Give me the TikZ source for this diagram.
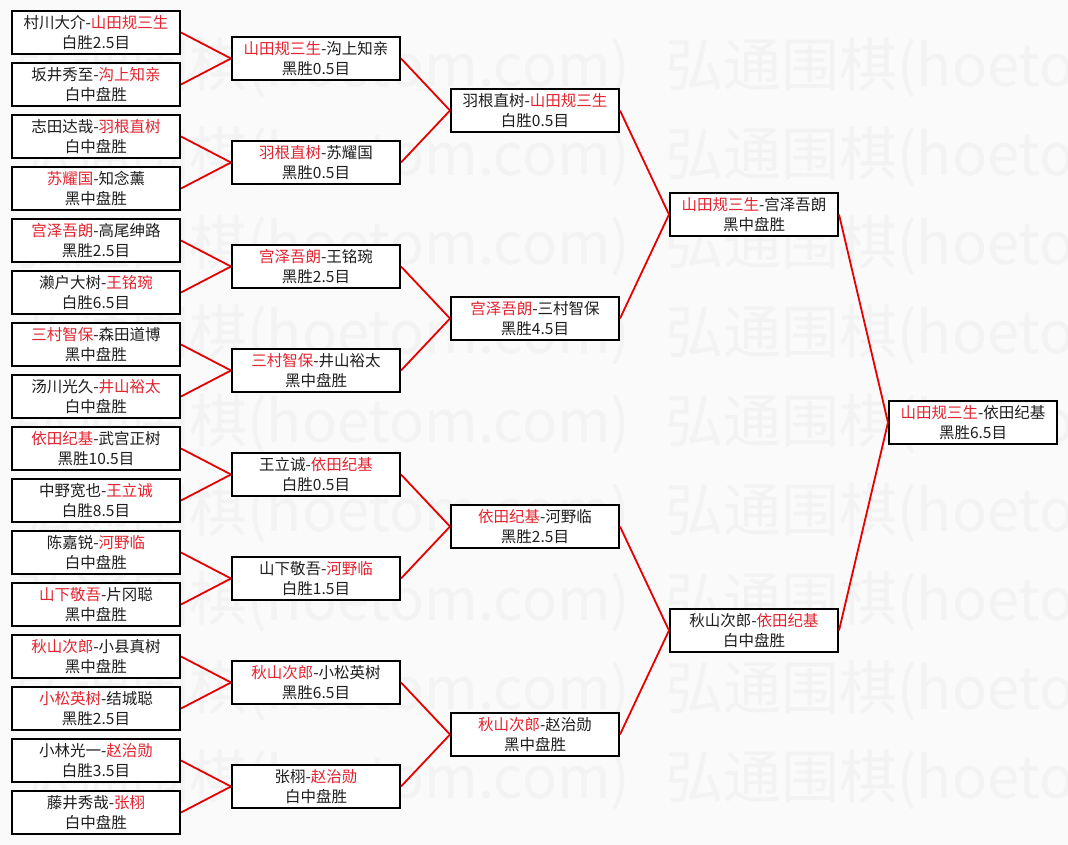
\documentclass[tikz,border=0pt]{standalone}
\usepackage{fontspec}
\setmainfont{Noto Sans CJK SC}
\definecolor{tred}{RGB}{226,36,48}
\definecolor{lred}{RGB}{230,0,0}
\definecolor{bg}{RGB}{250,250,250}
\definecolor{tk}{RGB}{30,30,30}
\definecolor{wmc}{RGB}{243,243,243}
\tikzset{
  mbox/.style={draw=black, line width=2pt, fill=white, minimum width=168pt, minimum height=43pt, inner sep=0pt, align=center, font=\fontsize{15.5}{20}\selectfont, text=tk},
  link/.style={draw=lred, line width=1.8pt},
  wm/.style={anchor=west, font=\fontsize{58}{60}\selectfont, text=wmc, inner sep=0pt}
}
\newcommand{\rd}[1]{\textcolor{tred}{#1}}
\begin{document}
\begin{tikzpicture}[x=1pt,y=-1pt]
\fill[bg] (0,0) rectangle (1068,845);
\useasboundingbox (0,0) rectangle (1068,845);
% watermark
\foreach \r in {0,...,8} {
  \node[wm] (wl\r) at (15,68+89*\r) {弘通围棋(hoetom.com)};
  \node[wm] (wr\r) at (665,68+89*\r) {弘通围棋(hoetom.com)};
}
% column 1
\node[mbox] (a0) at (96,32.5) {村川大介-\rd{山田规三生}\\白胜2.5目};
\node[mbox] (a1) at (96,84.5) {坂井秀至-\rd{沟上知亲}\\白中盘胜};
\node[mbox] (a2) at (96,136.5) {志田达哉-\rd{羽根直树}\\白中盘胜};
\node[mbox] (a3) at (96,188.5) {\rd{苏耀国}-知念薰\\黑中盘胜};
\node[mbox] (a4) at (96,240.5) {\rd{宫泽吾朗}-高尾绅路\\黑胜2.5目};
\node[mbox] (a5) at (96,292.5) {濑户大树-\rd{王铭琬}\\白胜6.5目};
\node[mbox] (a6) at (96,344.5) {\rd{三村智保}-森田道博\\黑中盘胜};
\node[mbox] (a7) at (96,396.5) {汤川光久-\rd{井山裕太}\\白中盘胜};
\node[mbox] (a8) at (96,448.5) {\rd{依田纪基}-武宫正树\\黑胜10.5目};
\node[mbox] (a9) at (96,500.5) {中野宽也-\rd{王立诚}\\白胜8.5目};
\node[mbox] (a10) at (96,552.5) {陈嘉锐-\rd{河野临}\\白中盘胜};
\node[mbox] (a11) at (96,604.5) {\rd{山下敬吾}-片冈聪\\黑中盘胜};
\node[mbox] (a12) at (96,656.5) {\rd{秋山次郎}-小县真树\\黑中盘胜};
\node[mbox] (a13) at (96,708.5) {\rd{小松英树}-结城聪\\黑胜2.5目};
\node[mbox] (a14) at (96,760.5) {小林光一-\rd{赵治勋}\\白胜3.5目};
\node[mbox] (a15) at (96,812.5) {藤井秀哉-\rd{张栩}\\白中盘胜};
% column 2
\node[mbox] (b0) at (316,58.5) {\rd{山田规三生}-沟上知亲\\黑胜0.5目};
\node[mbox] (b1) at (316,162.5) {\rd{羽根直树}-苏耀国\\黑胜0.5目};
\node[mbox] (b2) at (316,266.5) {\rd{宫泽吾朗}-王铭琬\\黑胜2.5目};
\node[mbox] (b3) at (316,370.5) {\rd{三村智保}-井山裕太\\黑中盘胜};
\node[mbox] (b4) at (316,474.5) {王立诚-\rd{依田纪基}\\白胜0.5目};
\node[mbox] (b5) at (316,578.5) {山下敬吾-\rd{河野临}\\白胜1.5目};
\node[mbox] (b6) at (316,682.5) {\rd{秋山次郎}-小松英树\\黑胜6.5目};
\node[mbox] (b7) at (316,786.5) {张栩-\rd{赵治勋}\\白中盘胜};
% column 3
\node[mbox] (c0) at (535,110.5) {羽根直树-\rd{山田规三生}\\白胜0.5目};
\node[mbox] (c1) at (535,318.5) {\rd{宫泽吾朗}-三村智保\\黑胜4.5目};
\node[mbox] (c2) at (535,526.5) {\rd{依田纪基}-河野临\\黑胜2.5目};
\node[mbox] (c3) at (535,734.5) {\rd{秋山次郎}-赵治勋\\黑中盘胜};
% column 4
\node[mbox] (d0) at (754,214.5) {\rd{山田规三生}-宫泽吾朗\\黑中盘胜};
\node[mbox] (d1) at (754,630.5) {秋山次郎-\rd{依田纪基}\\白中盘胜};
% column 5
\node[mbox] (e0) at (973,422.5) {\rd{山田规三生}-依田纪基\\黑胜6.5目};
% links
\foreach \i/\p in {0/0,1/0,2/1,3/1,4/2,5/2,6/3,7/3,8/4,9/4,10/5,11/5,12/6,13/6,14/7,15/7}
  \draw[link] (a\i.east) -- (b\p.west);
\foreach \i/\p in {0/0,1/0,2/1,3/1,4/2,5/2,6/3,7/3}
  \draw[link] (b\i.east) -- (c\p.west);
\foreach \i/\p in {0/0,1/0,2/1,3/1}
  \draw[link] (c\i.east) -- (d\p.west);
\foreach \i in {0,1}
  \draw[link] (d\i.east) -- (e0.west);
\end{tikzpicture}
\end{document}
